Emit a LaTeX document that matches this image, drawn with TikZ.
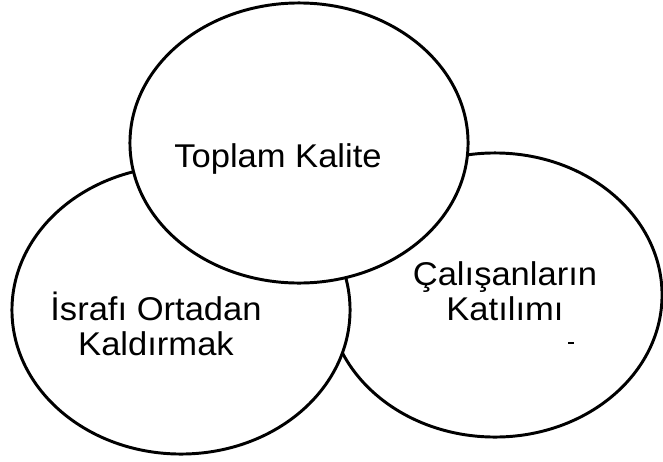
\documentclass[tikz,border=0pt]{standalone}
\usepackage{fontspec}
\newfontfamily\diagfont{Liberation Sans}[FakeStretch=1.05]
\usetikzlibrary{shapes.geometric}

\begin{document}
\begin{tikzpicture}[
  x=0.025cm, y=-0.025cm,
  every node/.style={font=\diagfont\fontsize{23.4}{24.9}\selectfont},
  ring/.style={ellipse, draw, fill=white, line width=2.1pt, inner sep=0pt},
  txt/.style={align=center, inner sep=0pt}
]
\useasboundingbox (0,0) rectangle (663,461);
\node[ring, minimum width=8.35cm, minimum height=7.1cm] (katilim) at (495,295) {};
\node[ring, minimum width=8.45cm, minimum height=7.2cm] (israf) at (181,310) {};
\node[ring, minimum width=8.45cm, minimum height=7.0cm] (kalite) at (299,143) {};
\node[txt, anchor=base] (kalitetxt) at (278,167) {Toplam Kalite};
\node[txt] (israftxt) at (156,324) {İsrafı Ortadan\\Kaldırmak};
\node[txt] (katilimtxt) at (505,291) {Çalışanların\\Katılımı};
\draw[line width=1.4pt] (568,343) -- (574,343);
\end{tikzpicture}
\end{document}
